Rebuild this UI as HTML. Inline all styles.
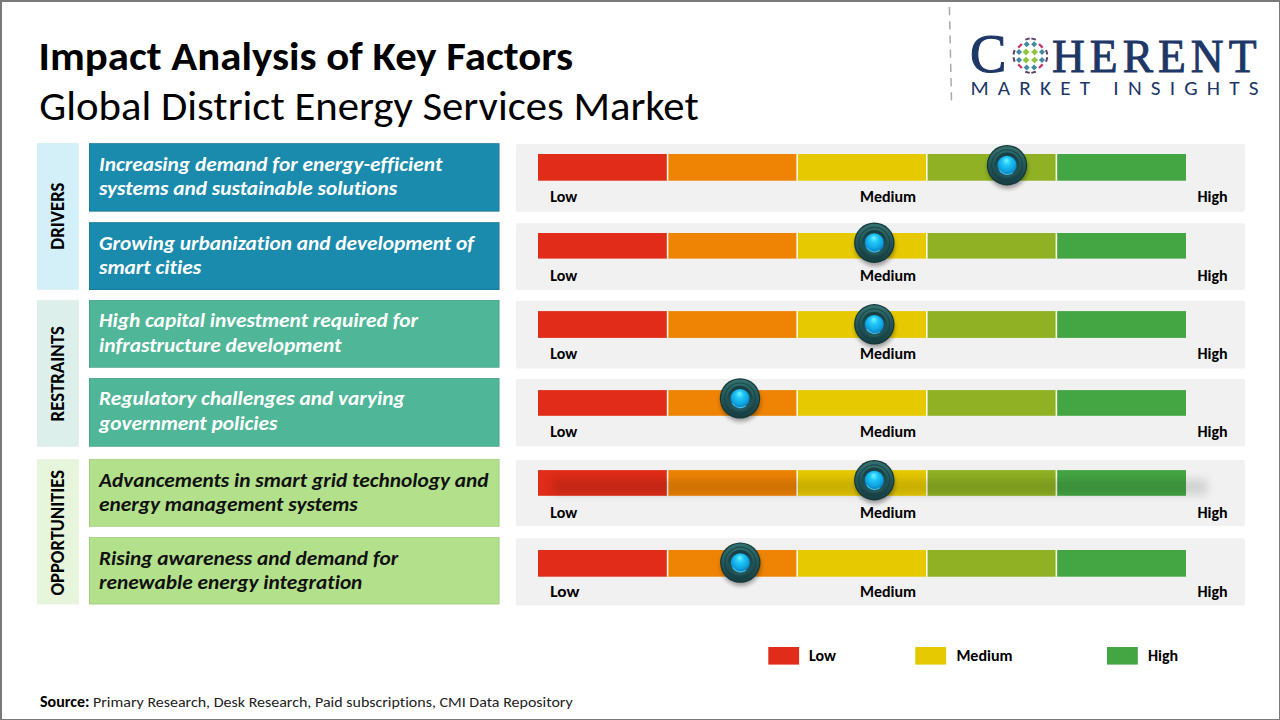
<!DOCTYPE html>
<html><head><meta charset="utf-8"><title>Impact Analysis of Key Factors</title>
<style>html,body{margin:0;padding:0;background:#fff;width:1280px;height:720px;overflow:hidden}svg{display:block}text{font-variant-ligatures:none;font-kerning:normal}</style>
</head><body>
<svg width="1280" height="720" viewBox="0 0 1280 720">
<defs>
<linearGradient id="kr" x1="0" y1="0" x2="0" y2="1">
 <stop offset="0" stop-color="#34716f"/><stop offset="0.5" stop-color="#235659"/><stop offset="1" stop-color="#183f42"/>
</linearGradient>
<linearGradient id="ki" x1="0" y1="0" x2="0" y2="1">
 <stop offset="0" stop-color="#163e41"/><stop offset="1" stop-color="#245a5d"/>
</linearGradient>
<radialGradient id="bl" cx="50%" cy="42%" r="58%" fx="47%" fy="22%">
 <stop offset="0" stop-color="#72f6ff"/><stop offset="0.35" stop-color="#22c8f8"/><stop offset="0.75" stop-color="#0ea2e0"/><stop offset="1" stop-color="#0a74b0"/>
</radialGradient>
<filter id="sh" x="-50%" y="-50%" width="200%" height="200%"><feGaussianBlur stdDeviation="2.2"/></filter>
<filter id="sh2" x="-20%" y="-100%" width="140%" height="300%"><feGaussianBlur stdDeviation="5"/></filter>
</defs>
<rect x="0" y="0" width="1280" height="720" fill="#ffffff"/>
<text transform="matrix(1 0 0 0.95 38.6 69.7)" font-family="Carlito, 'Liberation Sans', sans-serif" font-size="42.6" font-weight="700" fill="#000" textLength="534.40" lengthAdjust="spacingAndGlyphs">Impact Analysis of Key Factors</text>
<text transform="matrix(1 0 0 0.95 39.3 120)" font-family="Carlito, 'Liberation Sans', sans-serif" font-size="42.6" fill="#000" textLength="659.40" lengthAdjust="spacingAndGlyphs">Global District Energy Services Market</text>
<rect x="37" y="143.1" width="41.8" height="146.7" fill="#d3eff8"/>
<text transform="translate(64.2 216.1) rotate(-90) scale(1 1.06)" text-anchor="middle" font-family="Carlito, 'Liberation Sans', sans-serif" font-weight="700" font-size="18.3" fill="#000" textLength="67.20" lengthAdjust="spacingAndGlyphs">DRIVERS</text>
<rect x="37" y="300.1" width="41.8" height="146.6" fill="#dcefeb"/>
<text transform="translate(64.2 373.8) rotate(-90) scale(1 1.06)" text-anchor="middle" font-family="Carlito, 'Liberation Sans', sans-serif" font-weight="700" font-size="18.3" fill="#000" textLength="95.30" lengthAdjust="spacingAndGlyphs">RESTRAINTS</text>
<rect x="37" y="459.2" width="41.8" height="145.2" fill="#e6f5dc"/>
<text transform="translate(64.2 532.8) rotate(-90) scale(1 1.06)" text-anchor="middle" font-family="Carlito, 'Liberation Sans', sans-serif" font-weight="700" font-size="18.3" fill="#000" textLength="125.40" lengthAdjust="spacingAndGlyphs">OPPORTUNITIES</text>
<rect x="89" y="143.2" width="410.5" height="68.4" fill="#1a8aad"/>
<rect x="89.4" y="143.6" width="409.7" height="67.6" fill="none" stroke="#000" stroke-opacity="0.12" stroke-width="0.8"/>
<text transform="matrix(1 0 0 0.95 99 170.5)" font-family="Carlito, 'Liberation Sans', sans-serif" font-size="21.33" font-weight="700" font-style="italic" fill="#ffffff" textLength="343.28" lengthAdjust="spacingAndGlyphs">Increasing demand for energy-efficient</text>
<text transform="matrix(1 0 0 0.95 99 194.7)" font-family="Carlito, 'Liberation Sans', sans-serif" font-size="21.33" font-weight="700" font-style="italic" fill="#ffffff" textLength="298.22" lengthAdjust="spacingAndGlyphs">systems and sustainable solutions</text>
<rect x="89" y="222.2" width="410.5" height="67.8" fill="#1a8aad"/>
<rect x="89.4" y="222.6" width="409.7" height="67.0" fill="none" stroke="#000" stroke-opacity="0.12" stroke-width="0.8"/>
<text transform="matrix(1 0 0 0.95 99 249.5)" font-family="Carlito, 'Liberation Sans', sans-serif" font-size="21.33" font-weight="700" font-style="italic" fill="#ffffff" textLength="375.02" lengthAdjust="spacingAndGlyphs">Growing urbanization and development of</text>
<text transform="matrix(1 0 0 0.95 99 273.7)" font-family="Carlito, 'Liberation Sans', sans-serif" font-size="21.33" font-weight="700" font-style="italic" fill="#ffffff" textLength="102.05" lengthAdjust="spacingAndGlyphs">smart cities</text>
<rect x="89" y="300.1" width="410.5" height="67.6" fill="#50b698"/>
<rect x="89.4" y="300.5" width="409.7" height="66.8" fill="none" stroke="#000" stroke-opacity="0.12" stroke-width="0.8"/>
<text transform="matrix(1 0 0 0.95 99 327.4)" font-family="Carlito, 'Liberation Sans', sans-serif" font-size="21.33" font-weight="700" font-style="italic" fill="#ffffff" textLength="319.00" lengthAdjust="spacingAndGlyphs">High capital investment required for</text>
<text transform="matrix(1 0 0 0.95 99 351.6)" font-family="Carlito, 'Liberation Sans', sans-serif" font-size="21.33" font-weight="700" font-style="italic" fill="#ffffff" textLength="242.34" lengthAdjust="spacingAndGlyphs">infrastructure development</text>
<rect x="89" y="378.1" width="410.5" height="68.6" fill="#50b698"/>
<rect x="89.4" y="378.5" width="409.7" height="67.8" fill="none" stroke="#000" stroke-opacity="0.12" stroke-width="0.8"/>
<text transform="matrix(1 0 0 0.95 99 405.4)" font-family="Carlito, 'Liberation Sans', sans-serif" font-size="21.33" font-weight="700" font-style="italic" fill="#ffffff" textLength="305.68" lengthAdjust="spacingAndGlyphs">Regulatory challenges and varying</text>
<text transform="matrix(1 0 0 0.95 99 429.6)" font-family="Carlito, 'Liberation Sans', sans-serif" font-size="21.33" font-weight="700" font-style="italic" fill="#ffffff" textLength="178.42" lengthAdjust="spacingAndGlyphs">government policies</text>
<rect x="89" y="459.2" width="410.5" height="67.5" fill="#b3e18b"/>
<rect x="89.4" y="459.6" width="409.7" height="66.7" fill="none" stroke="#000" stroke-opacity="0.12" stroke-width="0.8"/>
<text transform="matrix(1 0 0 0.95 99 486.5)" font-family="Carlito, 'Liberation Sans', sans-serif" font-size="21.33" font-weight="700" font-style="italic" fill="#111111" textLength="389.50" lengthAdjust="spacingAndGlyphs">Advancements in smart grid technology and</text>
<text transform="matrix(1 0 0 0.95 99 510.7)" font-family="Carlito, 'Liberation Sans', sans-serif" font-size="21.33" font-weight="700" font-style="italic" fill="#111111" textLength="258.78" lengthAdjust="spacingAndGlyphs">energy management systems</text>
<rect x="89" y="537.2" width="410.5" height="67.2" fill="#b3e18b"/>
<rect x="89.4" y="537.6" width="409.7" height="66.4" fill="none" stroke="#000" stroke-opacity="0.12" stroke-width="0.8"/>
<text transform="matrix(1 0 0 0.95 99 564.5)" font-family="Carlito, 'Liberation Sans', sans-serif" font-size="21.33" font-weight="700" font-style="italic" fill="#111111" textLength="299.31" lengthAdjust="spacingAndGlyphs">Rising awareness and demand for</text>
<text transform="matrix(1 0 0 0.95 99 588.7)" font-family="Carlito, 'Liberation Sans', sans-serif" font-size="21.33" font-weight="700" font-style="italic" fill="#111111" textLength="263.37" lengthAdjust="spacingAndGlyphs">renewable energy integration</text>
<rect x="516" y="143.9" width="729" height="67.8" fill="#f1f1f1" rx="2"/>
<rect x="538.0" y="154.0" width="129.6" height="26.7" fill="#e02c18"/>
<rect x="667.6" y="154.0" width="129.6" height="26.7" fill="#ee8304"/>
<rect x="797.2" y="154.0" width="129.6" height="26.7" fill="#e6c900"/>
<rect x="926.8" y="154.0" width="129.6" height="26.7" fill="#8fb123"/>
<rect x="1056.4" y="154.0" width="129.6" height="26.7" fill="#44a543"/>
<rect x="666.8" y="154.0" width="1.6" height="26.7" fill="#fffbe6"/>
<rect x="796.4" y="154.0" width="1.6" height="26.7" fill="#fffbe6"/>
<rect x="926.0" y="154.0" width="1.6" height="26.7" fill="#fffbe6"/>
<rect x="1055.6" y="154.0" width="1.6" height="26.7" fill="#fffbe6"/>
<text transform="matrix(1 0 0 0.95 550.3 202.0)" font-family="Carlito, 'Liberation Sans', sans-serif" font-size="16" font-weight="700" fill="#000" textLength="26.99" lengthAdjust="spacingAndGlyphs">Low</text>
<text transform="matrix(1 0 0 0.95 888 202.0)" font-family="Carlito, 'Liberation Sans', sans-serif" font-size="16" font-weight="700" text-anchor="middle" fill="#000" textLength="56.12" lengthAdjust="spacingAndGlyphs">Medium</text>
<text transform="matrix(1 0 0 0.95 1197.5 202.0)" font-family="Carlito, 'Liberation Sans', sans-serif" font-size="16" font-weight="700" fill="#000" textLength="30.18" lengthAdjust="spacingAndGlyphs">High</text>
<circle cx="1007.6" cy="168.6" r="19.8" fill="#000" opacity="0.36" filter="url(#sh)"/>
<circle cx="1007.0" cy="165.2" r="20.2" fill="#12363a"/>
<circle cx="1007.0" cy="165.2" r="19.0" fill="url(#kr)"/>
<circle cx="1007.0" cy="165.2" r="15.4" fill="none" stroke="#173f42" stroke-width="1.2" opacity="0.7"/>
<circle cx="1007.0" cy="165.2" r="12.6" fill="url(#ki)"/>
<circle cx="1007.0" cy="165.39999999999998" r="9.6" fill="url(#bl)"/>
<path d="M999.4 170.0 A9.2 9.2 0 0 0 1012.5 172.8" fill="none" stroke="#5fd2f2" stroke-width="1.1" opacity="0.75"/>
<rect x="516" y="223.2" width="729" height="66.8" fill="#f1f1f1" rx="2"/>
<rect x="538.0" y="233.0" width="129.6" height="25.6" fill="#e02c18"/>
<rect x="667.6" y="233.0" width="129.6" height="25.6" fill="#ee8304"/>
<rect x="797.2" y="233.0" width="129.6" height="25.6" fill="#e6c900"/>
<rect x="926.8" y="233.0" width="129.6" height="25.6" fill="#8fb123"/>
<rect x="1056.4" y="233.0" width="129.6" height="25.6" fill="#44a543"/>
<rect x="666.8" y="233.0" width="1.6" height="25.6" fill="#fffbe6"/>
<rect x="796.4" y="233.0" width="1.6" height="25.6" fill="#fffbe6"/>
<rect x="926.0" y="233.0" width="1.6" height="25.6" fill="#fffbe6"/>
<rect x="1055.6" y="233.0" width="1.6" height="25.6" fill="#fffbe6"/>
<text transform="matrix(1 0 0 0.95 550.3 280.8)" font-family="Carlito, 'Liberation Sans', sans-serif" font-size="16" font-weight="700" fill="#000" textLength="26.99" lengthAdjust="spacingAndGlyphs">Low</text>
<text transform="matrix(1 0 0 0.95 888 280.8)" font-family="Carlito, 'Liberation Sans', sans-serif" font-size="16" font-weight="700" text-anchor="middle" fill="#000" textLength="56.12" lengthAdjust="spacingAndGlyphs">Medium</text>
<text transform="matrix(1 0 0 0.95 1197.5 280.8)" font-family="Carlito, 'Liberation Sans', sans-serif" font-size="16" font-weight="700" fill="#000" textLength="30.18" lengthAdjust="spacingAndGlyphs">High</text>
<circle cx="874.9" cy="246.1" r="19.8" fill="#000" opacity="0.36" filter="url(#sh)"/>
<circle cx="874.3" cy="242.7" r="20.2" fill="#12363a"/>
<circle cx="874.3" cy="242.7" r="19.0" fill="url(#kr)"/>
<circle cx="874.3" cy="242.7" r="15.4" fill="none" stroke="#173f42" stroke-width="1.2" opacity="0.7"/>
<circle cx="874.3" cy="242.7" r="12.6" fill="url(#ki)"/>
<circle cx="874.3" cy="242.89999999999998" r="9.6" fill="url(#bl)"/>
<path d="M866.7 247.5 A9.2 9.2 0 0 0 879.8 250.3" fill="none" stroke="#5fd2f2" stroke-width="1.1" opacity="0.75"/>
<rect x="516" y="300.8" width="729" height="67.7" fill="#f1f1f1" rx="2"/>
<rect x="538.0" y="311.1" width="129.6" height="26.8" fill="#e02c18"/>
<rect x="667.6" y="311.1" width="129.6" height="26.8" fill="#ee8304"/>
<rect x="797.2" y="311.1" width="129.6" height="26.8" fill="#e6c900"/>
<rect x="926.8" y="311.1" width="129.6" height="26.8" fill="#8fb123"/>
<rect x="1056.4" y="311.1" width="129.6" height="26.8" fill="#44a543"/>
<rect x="666.8" y="311.1" width="1.6" height="26.8" fill="#fffbe6"/>
<rect x="796.4" y="311.1" width="1.6" height="26.8" fill="#fffbe6"/>
<rect x="926.0" y="311.1" width="1.6" height="26.8" fill="#fffbe6"/>
<rect x="1055.6" y="311.1" width="1.6" height="26.8" fill="#fffbe6"/>
<text transform="matrix(1 0 0 0.95 550.3 359.0)" font-family="Carlito, 'Liberation Sans', sans-serif" font-size="16" font-weight="700" fill="#000" textLength="26.99" lengthAdjust="spacingAndGlyphs">Low</text>
<text transform="matrix(1 0 0 0.95 888 359.0)" font-family="Carlito, 'Liberation Sans', sans-serif" font-size="16" font-weight="700" text-anchor="middle" fill="#000" textLength="56.12" lengthAdjust="spacingAndGlyphs">Medium</text>
<text transform="matrix(1 0 0 0.95 1197.5 359.0)" font-family="Carlito, 'Liberation Sans', sans-serif" font-size="16" font-weight="700" fill="#000" textLength="30.18" lengthAdjust="spacingAndGlyphs">High</text>
<circle cx="874.9" cy="327.7" r="19.8" fill="#000" opacity="0.36" filter="url(#sh)"/>
<circle cx="874.3" cy="324.3" r="20.2" fill="#12363a"/>
<circle cx="874.3" cy="324.3" r="19.0" fill="url(#kr)"/>
<circle cx="874.3" cy="324.3" r="15.4" fill="none" stroke="#173f42" stroke-width="1.2" opacity="0.7"/>
<circle cx="874.3" cy="324.3" r="12.6" fill="url(#ki)"/>
<circle cx="874.3" cy="324.5" r="9.6" fill="url(#bl)"/>
<path d="M866.7 329.1 A9.2 9.2 0 0 0 879.8 331.9" fill="none" stroke="#5fd2f2" stroke-width="1.1" opacity="0.75"/>
<rect x="516" y="379.0" width="729" height="67.4" fill="#f1f1f1" rx="2"/>
<rect x="538.0" y="390.1" width="129.6" height="25.7" fill="#e02c18"/>
<rect x="667.6" y="390.1" width="129.6" height="25.7" fill="#ee8304"/>
<rect x="797.2" y="390.1" width="129.6" height="25.7" fill="#e6c900"/>
<rect x="926.8" y="390.1" width="129.6" height="25.7" fill="#8fb123"/>
<rect x="1056.4" y="390.1" width="129.6" height="25.7" fill="#44a543"/>
<rect x="666.8" y="390.1" width="1.6" height="25.7" fill="#fffbe6"/>
<rect x="796.4" y="390.1" width="1.6" height="25.7" fill="#fffbe6"/>
<rect x="926.0" y="390.1" width="1.6" height="25.7" fill="#fffbe6"/>
<rect x="1055.6" y="390.1" width="1.6" height="25.7" fill="#fffbe6"/>
<text transform="matrix(1 0 0 0.95 550.3 437.0)" font-family="Carlito, 'Liberation Sans', sans-serif" font-size="16" font-weight="700" fill="#000" textLength="26.99" lengthAdjust="spacingAndGlyphs">Low</text>
<text transform="matrix(1 0 0 0.95 888 437.0)" font-family="Carlito, 'Liberation Sans', sans-serif" font-size="16" font-weight="700" text-anchor="middle" fill="#000" textLength="56.12" lengthAdjust="spacingAndGlyphs">Medium</text>
<text transform="matrix(1 0 0 0.95 1197.5 437.0)" font-family="Carlito, 'Liberation Sans', sans-serif" font-size="16" font-weight="700" fill="#000" textLength="30.18" lengthAdjust="spacingAndGlyphs">High</text>
<circle cx="740.6" cy="401.79999999999995" r="19.8" fill="#000" opacity="0.36" filter="url(#sh)"/>
<circle cx="740.0" cy="398.4" r="20.2" fill="#12363a"/>
<circle cx="740.0" cy="398.4" r="19.0" fill="url(#kr)"/>
<circle cx="740.0" cy="398.4" r="15.4" fill="none" stroke="#173f42" stroke-width="1.2" opacity="0.7"/>
<circle cx="740.0" cy="398.4" r="12.6" fill="url(#ki)"/>
<circle cx="740.0" cy="398.59999999999997" r="9.6" fill="url(#bl)"/>
<path d="M732.4 403.2 A9.2 9.2 0 0 0 745.5 406.0" fill="none" stroke="#5fd2f2" stroke-width="1.1" opacity="0.75"/>
<rect x="516" y="460.0" width="729" height="66.1" fill="#f1f1f1" rx="2"/>
<rect x="538.0" y="470.1" width="129.6" height="25.7" fill="#e02c18"/>
<rect x="667.6" y="470.1" width="129.6" height="25.7" fill="#ee8304"/>
<rect x="797.2" y="470.1" width="129.6" height="25.7" fill="#e6c900"/>
<rect x="926.8" y="470.1" width="129.6" height="25.7" fill="#8fb123"/>
<rect x="1056.4" y="470.1" width="129.6" height="25.7" fill="#44a543"/>
<rect x="666.8" y="470.1" width="1.6" height="25.7" fill="#fffbe6"/>
<rect x="796.4" y="470.1" width="1.6" height="25.7" fill="#fffbe6"/>
<rect x="926.0" y="470.1" width="1.6" height="25.7" fill="#fffbe6"/>
<rect x="1055.6" y="470.1" width="1.6" height="25.7" fill="#fffbe6"/>
<rect x="552" y="479.1" width="655" height="15.7" fill="#000" opacity="0.13" filter="url(#sh2)"/>
<text transform="matrix(1 0 0 0.95 550.3 518.0)" font-family="Carlito, 'Liberation Sans', sans-serif" font-size="16" font-weight="700" fill="#000" textLength="26.99" lengthAdjust="spacingAndGlyphs">Low</text>
<text transform="matrix(1 0 0 0.95 888 518.0)" font-family="Carlito, 'Liberation Sans', sans-serif" font-size="16" font-weight="700" text-anchor="middle" fill="#000" textLength="56.12" lengthAdjust="spacingAndGlyphs">Medium</text>
<text transform="matrix(1 0 0 0.95 1197.5 518.0)" font-family="Carlito, 'Liberation Sans', sans-serif" font-size="16" font-weight="700" fill="#000" textLength="30.18" lengthAdjust="spacingAndGlyphs">High</text>
<circle cx="874.9" cy="483.59999999999997" r="19.8" fill="#000" opacity="0.36" filter="url(#sh)"/>
<circle cx="874.3" cy="480.2" r="20.2" fill="#12363a"/>
<circle cx="874.3" cy="480.2" r="19.0" fill="url(#kr)"/>
<circle cx="874.3" cy="480.2" r="15.4" fill="none" stroke="#173f42" stroke-width="1.2" opacity="0.7"/>
<circle cx="874.3" cy="480.2" r="12.6" fill="url(#ki)"/>
<circle cx="874.3" cy="480.4" r="9.6" fill="url(#bl)"/>
<path d="M866.7 485.0 A9.2 9.2 0 0 0 879.8 487.8" fill="none" stroke="#5fd2f2" stroke-width="1.1" opacity="0.75"/>
<rect x="516" y="538.2" width="729" height="67.4" fill="#f1f1f1" rx="2"/>
<rect x="538.0" y="550.0" width="129.6" height="26.7" fill="#e02c18"/>
<rect x="667.6" y="550.0" width="129.6" height="26.7" fill="#ee8304"/>
<rect x="797.2" y="550.0" width="129.6" height="26.7" fill="#e6c900"/>
<rect x="926.8" y="550.0" width="129.6" height="26.7" fill="#8fb123"/>
<rect x="1056.4" y="550.0" width="129.6" height="26.7" fill="#44a543"/>
<rect x="666.8" y="550.0" width="1.6" height="26.7" fill="#fffbe6"/>
<rect x="796.4" y="550.0" width="1.6" height="26.7" fill="#fffbe6"/>
<rect x="926.0" y="550.0" width="1.6" height="26.7" fill="#fffbe6"/>
<rect x="1055.6" y="550.0" width="1.6" height="26.7" fill="#fffbe6"/>
<text transform="matrix(1 0 0 0.95 550.3 597.0)" font-family="Carlito, 'Liberation Sans', sans-serif" font-size="17.3" font-weight="700" fill="#000" textLength="29.19" lengthAdjust="spacingAndGlyphs">Low</text>
<text transform="matrix(1 0 0 0.95 888 597.0)" font-family="Carlito, 'Liberation Sans', sans-serif" font-size="16" font-weight="700" text-anchor="middle" fill="#000" textLength="56.12" lengthAdjust="spacingAndGlyphs">Medium</text>
<text transform="matrix(1 0 0 0.95 1197.5 597.0)" font-family="Carlito, 'Liberation Sans', sans-serif" font-size="16" font-weight="700" fill="#000" textLength="30.18" lengthAdjust="spacingAndGlyphs">High</text>
<circle cx="740.9" cy="566.0" r="19.8" fill="#000" opacity="0.36" filter="url(#sh)"/>
<circle cx="740.3" cy="562.6" r="20.2" fill="#12363a"/>
<circle cx="740.3" cy="562.6" r="19.0" fill="url(#kr)"/>
<circle cx="740.3" cy="562.6" r="15.4" fill="none" stroke="#173f42" stroke-width="1.2" opacity="0.7"/>
<circle cx="740.3" cy="562.6" r="12.6" fill="url(#ki)"/>
<circle cx="740.3" cy="562.8000000000001" r="9.6" fill="url(#bl)"/>
<path d="M732.7 567.4 A9.2 9.2 0 0 0 745.8 570.2" fill="none" stroke="#5fd2f2" stroke-width="1.1" opacity="0.75"/>
<rect x="768.3" y="647" width="30.8" height="17.6" fill="#e02c18"/>
<text transform="matrix(1 0 0 0.95 809 661)" font-family="Carlito, 'Liberation Sans', sans-serif" font-size="16" font-weight="700" fill="#000" textLength="26.99" lengthAdjust="spacingAndGlyphs">Low</text>
<rect x="915.3" y="647" width="30.8" height="17.6" fill="#e6c900"/>
<text transform="matrix(1 0 0 0.95 956.4 661)" font-family="Carlito, 'Liberation Sans', sans-serif" font-size="16" font-weight="700" fill="#000" textLength="56.12" lengthAdjust="spacingAndGlyphs">Medium</text>
<rect x="1107" y="647" width="30.8" height="17.6" fill="#44a543"/>
<text transform="matrix(1 0 0 0.95 1148 661)" font-family="Carlito, 'Liberation Sans', sans-serif" font-size="16" font-weight="700" fill="#000" textLength="30.18" lengthAdjust="spacingAndGlyphs">High</text>
<text transform="matrix(1 0 0 0.95 40 706.6)" font-family="Carlito, 'Liberation Sans', sans-serif" font-size="16" fill="#222" textLength="532.76" lengthAdjust="spacingAndGlyphs"><tspan font-weight="700" fill="#000">Source:</tspan> Primary Research, Desk Research, Paid subscriptions, CMI Data Repository</text>
<line x1="949.4" y1="7" x2="951.5" y2="100.5" stroke="#a9a9a9" stroke-width="1.5" stroke-dasharray="8.2,6"/>
<text x="970" y="71.8" font-family="'Liberation Serif', serif" font-size="54.5" fill="#1d3767" stroke="#1d3767" stroke-width="1.1">C</text>
<text x="1052" y="72.2" font-family="'Liberation Serif', serif" font-size="45.5" fill="#1d3767" stroke="#1d3767" stroke-width="0.9" textLength="204.5" lengthAdjust="spacing">HERENT</text>
<text x="970.5" y="94.7" font-family="Carlito, 'Liberation Sans', sans-serif" font-size="21.3" fill="#1d3767" textLength="288" lengthAdjust="spacing">MARKET INSIGHTS</text>
<path d="M1026.0 48.6 L1029.4 52.0 L1026.0 55.4 L1022.6 52.0 Z" fill="#8cc63f"/>
<path d="M1034.6 48.6 L1038.0 52.0 L1034.6 55.4 L1031.2 52.0 Z" fill="#8cc63f"/>
<path d="M1026.0 56.7 L1029.4 60.1 L1026.0 63.5 L1022.6 60.1 Z" fill="#8cc63f"/>
<path d="M1034.6 56.7 L1038.0 60.1 L1034.6 63.5 L1031.2 60.1 Z" fill="#8cc63f"/>
<path d="M1026.7 41.2 L1029.7 44.2 L1026.7 47.2 L1023.7 44.2 Z" fill="#428a9f"/>
<path d="M1034.1 41.2 L1037.1 44.2 L1034.1 47.2 L1031.1 44.2 Z" fill="#428a9f"/>
<path d="M1026.7 64.6 L1029.7 67.6 L1026.7 70.6 L1023.7 67.6 Z" fill="#428a9f"/>
<path d="M1034.1 64.6 L1037.1 67.6 L1034.1 70.6 L1031.1 67.6 Z" fill="#428a9f"/>
<path d="M1019.0 49.0 L1022.0 52.0 L1019.0 55.0 L1016.0 52.0 Z" fill="#428a9f"/>
<path d="M1019.0 57.1 L1022.0 60.1 L1019.0 63.1 L1016.0 60.1 Z" fill="#428a9f"/>
<path d="M1042.0 49.0 L1045.0 52.0 L1042.0 55.0 L1039.0 52.0 Z" fill="#428a9f"/>
<path d="M1042.0 57.1 L1045.0 60.1 L1042.0 63.1 L1039.0 60.1 Z" fill="#428a9f"/>
<rect x="1017.4" y="44.7" width="5.2" height="2.2" fill="#c9336a" transform="rotate(-45 1020.0 45.8)"/>
<rect x="1038.2" y="44.7" width="5.2" height="2.2" fill="#c9336a" transform="rotate(45 1040.8 45.8)"/>
<rect x="1017.4" y="65.1" width="5.2" height="2.2" fill="#c9336a" transform="rotate(45 1020.0 66.2)"/>
<rect x="1038.2" y="65.1" width="5.2" height="2.2" fill="#c9336a" transform="rotate(-45 1040.8 66.2)"/>
<rect x="1025.2" y="38.0" width="4.6" height="2.0" fill="#5e3c68" transform="rotate(-15 1027.5 39.0)"/>
<rect x="1031.3" y="38.0" width="4.6" height="2.0" fill="#5e3c68" transform="rotate(15 1033.6 39.0)"/>
<rect x="1025.2" y="71.3" width="4.6" height="2.0" fill="#5e3c68" transform="rotate(15 1027.5 72.3)"/>
<rect x="1031.3" y="71.3" width="4.6" height="2.0" fill="#5e3c68" transform="rotate(-15 1033.6 72.3)"/>
<rect x="1011.7" y="51.3" width="4.6" height="2.0" fill="#5e3c68" transform="rotate(-75 1014.0 52.3)"/>
<rect x="1011.7" y="58.5" width="4.6" height="2.0" fill="#5e3c68" transform="rotate(75 1014.0 59.5)"/>
<rect x="1044.4" y="51.3" width="4.6" height="2.0" fill="#5e3c68" transform="rotate(75 1046.7 52.3)"/>
<rect x="1044.4" y="58.5" width="4.6" height="2.0" fill="#5e3c68" transform="rotate(-75 1046.7 59.5)"/>
<rect x="0" y="0" width="1280" height="2" fill="#7a7a7a"/><rect x="0" y="0" width="2" height="720" fill="#7a7a7a"/><rect x="1279" y="0" width="1" height="720" fill="#7a7a7a"/><rect x="0" y="719" width="1280" height="1" fill="#7a7a7a"/>
</svg>
</body></html>
